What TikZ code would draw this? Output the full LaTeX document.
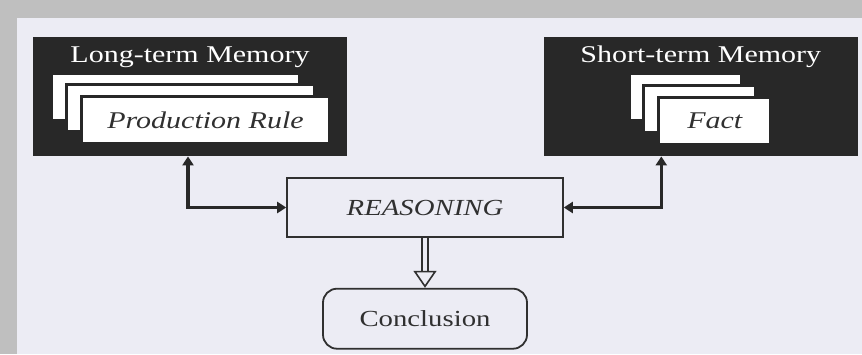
\documentclass[tikz,border=0pt]{standalone}
\usepackage{fontspec}
\setmainfont{Liberation Serif}[FakeStretch=1.25]
\usepackage{xcolor}
\definecolor{kbDark}{HTML}{282828}
\definecolor{kbInk}{HTML}{303030}
\definecolor{kbPanel}{HTML}{ECECF4}
\definecolor{kbFrame}{HTML}{BFBFBF}
\usetikzlibrary{arrows.meta, positioning}

\begin{document}
\begin{tikzpicture}[
        x=0.5pt, y=-0.5pt,
        memory/.style={rectangle, fill=kbDark, inner sep=0pt, minimum width=157pt, minimum height=59.5pt},
        memtitle/.style={text=white, inner sep=0pt, font=\fontsize{12}{14}\selectfont},
        card/.style={rectangle, draw=kbDark, fill=white, line width=1.5pt, minimum height=23.5pt, inner sep=0pt, text=kbInk, font=\fontsize{12}{14}\selectfont\itshape},
        procbox/.style={rectangle, draw=kbInk, fill=kbPanel, line width=0.8pt, minimum width=138pt, minimum height=29.5pt, text=kbInk, font=\fontsize{11.5}{14}\selectfont\itshape},
        endbox/.style={rectangle, rounded corners=7pt, draw=kbInk, line width=0.9pt, minimum width=102pt, minimum height=30pt, text=kbInk, font=\fontsize{11.5}{14}\selectfont},
        biarr/.style={{Triangle[length=4.5pt, width=5.5pt]}-{Triangle[length=4.5pt, width=5.5pt]}, line width=1.7pt, kbDark},
        shaft/.style={draw=kbInk, double=kbPanel, double distance=2.4pt, line width=0.8pt},
        hollowhead/.style={-{Triangle[open, length=8.5pt, width=11.5pt]}, line width=0.8pt, kbInk},
    ]
        % Background
        \fill[kbFrame] (0,0) rectangle (862,354);
        \fill[kbPanel] (17,18) rectangle (862,354);
        \useasboundingbox (0,0) rectangle (862,354);

        % Memories
        \node[memory] (lmem) at (190,96.5) {};
        \node[memory, right=98pt of lmem] (smem) {};
        \node[memtitle, anchor=base] (ltitle) at ([yshift=-12.9pt]lmem.north) {Long-term Memory};
        \node[memtitle, anchor=base] (stitle) at ([yshift=-12.9pt]smem.north) {Short-term Memory};

        % Card stacks
        \coordinate (lfront) at ([xshift=7.75pt, yshift=-11.75pt]lmem.center);
        \node[card, minimum width=124pt] (lcard1) at ([xshift=-15pt, yshift=11.75pt]lfront) {};
        \node[card, minimum width=124pt] (lcard2) at ([xshift=-7.5pt, yshift=6pt]lfront) {};
        \node[card, minimum width=124pt] (lrule) at (lfront) {Production Rule};

        \coordinate (sfront) at ([xshift=7pt, yshift=-12pt]smem.center);
        \node[card, minimum width=56pt] (scard1) at ([xshift=-14.5pt, yshift=12pt]sfront) {};
        \node[card, minimum width=56pt] (scard2) at ([xshift=-7.5pt, yshift=6pt]sfront) {};
        \node[card, minimum width=56pt] (sfact) at (sfront) {Fact};

        % Reasoning and conclusion
        \node[procbox] (reason) at (425,207.5) {REASONING};
        \node[endbox, below=25pt of reason] (concl) {Conclusion};

        % Arrows: memories <-> reasoning
        \draw[biarr] (reason.west) -| ([xshift=-1pt]lmem.south);
        \draw[biarr] (reason.east) -| ([xshift=-19.75pt]smem.south);

        % Arrow: reasoning -> conclusion
        \draw[shaft] (reason.south) -- ([yshift=8.5pt]concl.north);
        \draw[hollowhead] ([yshift=8.5pt]concl.north) -- (concl.north);

    \end{tikzpicture}
\end{document}
